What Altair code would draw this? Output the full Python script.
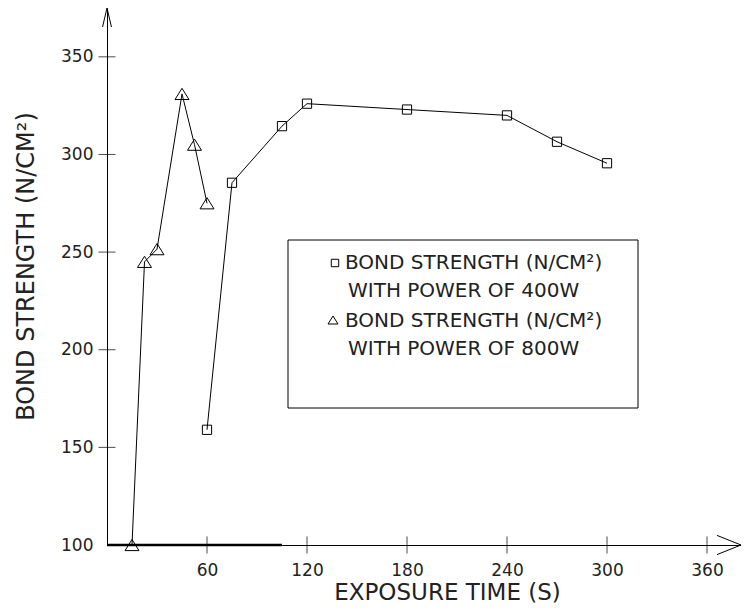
import altair as alt
import pandas as pd

# ---- data ----
time_400w = [60, 75, 105, 120, 180, 240, 270, 300]
bond_400w = [159, 285.5, 314.5, 326, 323, 320, 306.5, 295.5]
time_800w = [15, 22.5, 30, 45, 52.5, 60]
bond_800w = [100, 245, 251.5, 331, 305, 275]
x_ticks = [60, 120, 180, 240, 300, 360]
y_ticks = [100, 150, 200, 250, 300, 350]
base_span = [0, 105]
legend_lines = ["BOND STRENGTH (N/CM²)", "WITH POWER OF 400W",
                "BOND STRENGTH (N/CM²)", "WITH POWER OF 800W"]
x_title = "EXPOSURE TIME (S)"
y_title = "BOND STRENGTH (N/CM²)"

X_DOM = [0, 380.4]
Y_DOM = [100, 375]
FONT = "DejaVu Sans"
TXT = "#222222"

df400 = pd.DataFrame({"t": time_400w, "s": bond_400w})
df800 = pd.DataFrame({"t": time_800w, "s": bond_800w})
dfx = pd.DataFrame({"t": x_ticks})
dfy = pd.DataFrame({"s": y_ticks[1:]})
dfbase = pd.DataFrame({"t": [base_span[0]], "t2": [base_span[1]], "s": [y_ticks[0]]})
one = pd.DataFrame({"a": [0]})

xs = alt.Scale(domain=X_DOM, nice=False, zero=False)
ys = alt.Scale(domain=Y_DOM, nice=False, zero=False)

x_axis = alt.Axis(values=x_ticks, ticks=False, tickSize=0, grid=False,
                  domainColor="black", domainWidth=1,
                  labelFont=FONT, labelFontSize=17, labelColor=TXT, labelPadding=17,
                  labelFlush=False,
                  title=x_title, titleFont=FONT, titleFontSize=23, titleFontWeight="normal",
                  titleColor=TXT, titleX=340, titleY=54, titleAlign="center",
                  titleBaseline="alphabetic")
y_axis = alt.Axis(values=y_ticks, ticks=False, tickSize=0, grid=False,
                  domainColor="black", domainWidth=1,
                  labelFont=FONT, labelFontSize=17, labelColor=TXT, labelPadding=14,
                  labelFlush=False,
                  title=y_title, titleFont=FONT, titleFontSize=24, titleFontWeight="normal",
                  titleColor=TXT, titleAngle=-90, titleX=-74, titleY=258,
                  titleAlign="center", titleBaseline="alphabetic")

base = alt.Chart(dfbase).mark_rule(color="black", strokeWidth=2.5).encode(
    x=alt.X("t:Q", scale=xs, axis=x_axis),
    x2="t2:Q",
    y=alt.Y("s:Q", scale=ys, axis=y_axis),
)

line400 = alt.Chart(df400).mark_line(color="black", strokeWidth=1).encode(
    x=alt.X("t:Q", scale=xs), y=alt.Y("s:Q", scale=ys))
pts400 = alt.Chart(df400).mark_point(shape="square", size=85, filled=False,
                                     color="black", strokeWidth=1, opacity=1).encode(
    x=alt.X("t:Q", scale=xs), y=alt.Y("s:Q", scale=ys))

TRI = "M0,-0.8L-1,0.8L1,0.8Z"
line800 = alt.Chart(df800).mark_line(color="black", strokeWidth=1).encode(
    x=alt.X("t:Q", scale=xs), y=alt.Y("s:Q", scale=ys))
pts800 = alt.Chart(df800).mark_point(shape=TRI, size=196, filled=False,
                                     color="black", strokeWidth=1, opacity=1).encode(
    x=alt.X("t:Q", scale=xs), y=alt.Y("s:Q", scale=ys))

xt = alt.Chart(dfx).mark_tick(orient="vertical", size=17, thickness=1, color="black").encode(
    x=alt.X("t:Q", scale=xs), y=alt.datum(y_ticks[0], scale=ys))
yt = alt.Chart(dfy).mark_tick(orient="horizontal", size=17, thickness=1, color="black").encode(
    y=alt.Y("s:Q", scale=ys), x=alt.datum(X_DOM[0], scale=xs))

arrow_x = alt.Chart(one).mark_point(shape="M-2,-0.8L0,0L-2,0.8", size=576, filled=False,
                                    color="black", strokeWidth=1, opacity=1).encode(
    x=alt.datum(X_DOM[1], scale=xs), y=alt.datum(Y_DOM[0], scale=ys))
arrow_y = alt.Chart(one).mark_point(shape="M-0.47,2L0,0L0.47,2", size=361, filled=False,
                                    color="black", strokeWidth=1, opacity=1).encode(
    x=alt.datum(X_DOM[0], scale=xs), y=alt.datum(Y_DOM[1], scale=ys))

# ---- legend box ----
leg_box = alt.Chart(one).mark_rect(fillOpacity=0, stroke="black", strokeWidth=1).encode(
    x=alt.value(181), x2=alt.value(531), y=alt.value(232), y2=alt.value(400))
leg_sq = alt.Chart(one).mark_point(shape="square", size=55, filled=False, color="black",
                                   strokeWidth=1, opacity=1).encode(
    x=alt.value(228), y=alt.value(255))
leg_tri = alt.Chart(one).mark_point(shape=TRI, size=100, filled=False, color="black",
                                    strokeWidth=1, opacity=1).encode(
    x=alt.value(226), y=alt.value(312))

leg_pos = [(238, 261), (241, 289), (238, 319), (241, 347)]
leg_texts = []
for txt, (px, py) in zip(legend_lines, leg_pos):
    leg_texts.append(
        alt.Chart(one).mark_text(text=txt, font=FONT, fontSize=20, color=TXT,
                                 align="left", baseline="alphabetic").encode(
            x=alt.value(px), y=alt.value(py)))

chart = alt.layer(base, line400, pts400, line800, pts800, xt, yt, arrow_x, arrow_y,
                  leg_box, leg_sq, leg_tri, *leg_texts).properties(
    width=634, height=537,
    autosize=alt.AutoSizeParams(type="none"),
    padding={"left": 99, "top": 0, "right": 0, "bottom": 59},
    background="white",
).configure_view(stroke=None)

chart.save("out.html", embed_options={"renderer": "svg", "actions": False})
